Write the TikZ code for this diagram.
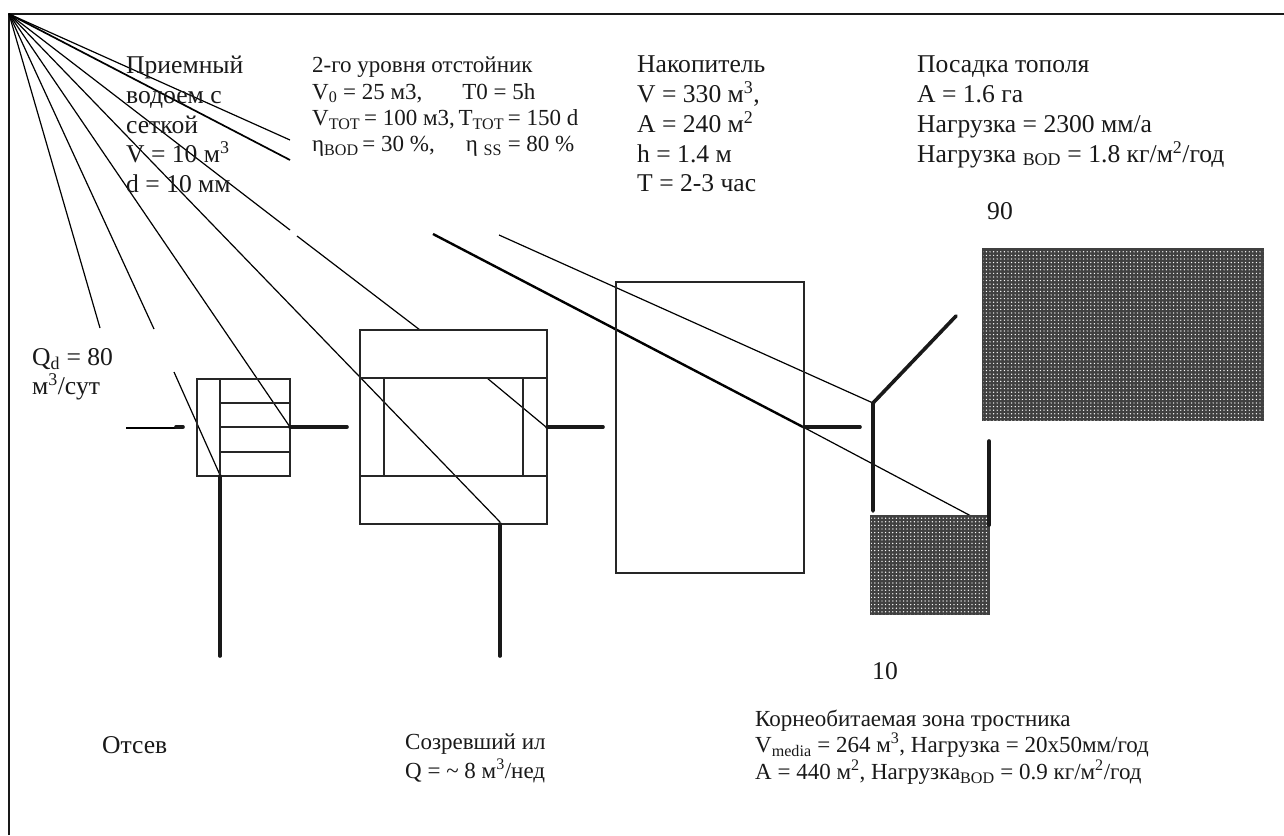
\documentclass[tikz,border=0pt]{standalone}
\usepackage{fontspec}
\setmainfont{Liberation Serif}
\usetikzlibrary{patterns.meta}
\tikzset{
  thinline/.style={line width=1.2pt},
  boxline/.style={line width=1.8pt, draw=black!85},
  thickline/.style={line width=3.6pt, line cap=round, draw=black!90},
  label/.style={inner sep=0pt, align=left, anchor=north west, text=black!90, font=\fontsize{25.6}{29.7}\selectfont},
  smalllabel/.style={label, font=\fontsize{23}{26.3}\selectfont},
  bedfill/.style={fill=black!75, draw=black!75, line width=1.5pt,
    postaction={pattern={Dots[distance=3.6pt, radius=.72pt]}, pattern color=white}}
}
\newcommand{\sbs}[1]{\textsubscript{#1}}
\newcommand{\sps}[1]{\textsuperscript{#1}}
\begin{document}
\begin{tikzpicture}[x=1pt, y=-1pt]
    \useasboundingbox (0,0) rectangle (1284,835);
    \fill[white] (0,0) rectangle (1284,835);

    % Frame
    \coordinate (apex) at (9,14);
    \coordinate (topright) at (1284,14);
    \coordinate (botleft) at (9,835);
    \draw[line width=2.2pt, black!90] (botleft) -- (apex) -- (topright);

    % Rays
    \draw[thinline] (apex) -- (100,328);
    \draw[thinline] (apex) -- (154,329);
    \draw[thinline] (174,372) -- (220,475);
    \draw[thinline] (apex) -- (290,427);
    \draw[thinline] (apex) -- (500,522);
    \draw[thinline] (apex) -- (290,230);
    \draw[thinline] (297,236) -- (420,330);
    \draw[thinline] (487,378) -- (546,427);
    \draw[line width=1.7pt] (apex) -- (290,160);
    \draw[line width=2.4pt] (433,234) -- (803,427);
    \draw[thinline] (803,427) -- (971,516);
    \draw[thinline] (apex) -- (290,140);
    \draw[thinline] (499,235) -- (873,403);

    % Screen
    \draw[boxline] (197,379) rectangle (290,476);
    \draw[boxline] (220,379) -- (220,476);
    \foreach \y in {403,427,452}
        \draw[boxline] (220,\y) -- (290,\y);

    % Settler
    \draw[boxline] (360,330) rectangle (547,524);
    \draw[boxline] (360,378) -- (547,378);
    \draw[boxline] (360,476) -- (547,476);
    \draw[boxline] (384,378) -- (384,476);
    \draw[boxline] (523,378) -- (523,476);

    % Storage
    \draw[boxline] (616,282) rectangle (804,573);

    % Beds
    \path[bedfill] (983,249) rectangle (1263,420);
    \path[bedfill] (871,516) rectangle (989,614);

    % Pipes
    \draw[thinline] (126,428) -- (176,428);
    \draw[thickline] (176,427) -- (183,427);
    \draw[thickline] (290,427) -- (347,427);
    \draw[thickline] (220,476) -- (220,656);
    \draw[thickline] (547,427) -- (603,427);
    \draw[thickline] (500,524) -- (500,656);
    \draw[thickline] (804,427) -- (860,427);
    \draw[thickline] (873,511) -- (873,403) -- (956,316);
    \draw[thickline] (989,441) -- (989,525);

    % Labels
    \node (intake) [label] at (126,56) {Приемный\\водоем с\\сеткой\\V = 10 м\sps{3}\\d = 10 мм};
    \node (settler) [smalllabel] at (312,57) {2-го уровня отстойник\\V\sbs{0} = 25 м3,\hspace{40pt}T0 = 5h\\V\sbs{TOT}\hspace{-2pt} = 100 м3,\hspace{-2pt} T\sbs{TOT}\hspace{-2pt} = 150 d\\η\sbs{BOD}\hspace{-2pt} = 30 \%,\hspace{31pt}η \sbs{SS} = 80 \%};
    \node (pond) [label] at (637,56) {Накопитель\\V = 330 м\sps{3},\\A = 240 м\sps{2}\\h = 1.4 м\\T = 2-3 час};
    \node (poplar) [label] at (917,56) {Посадка тополя\\A = 1.6 га\\Нагрузка = 2300 мм/а\\Нагрузка \sbs{BOD} = 1.8 кг/м\sps{2}/год};
    \node (ninety) [label] at (987,202) {90};
    \node (flow) [label] at (32,348) {Q\sbs{d} = 80\\м\sps{3}/сут};
    \node (ten) [label] at (872,662) {10};
    \node (waste) [label] at (102,736) {Отсев};
    \node (sludge) [smalllabel, font=\fontsize{23}{29}\selectfont] at (405,734) {Созревший ил\\Q = \textasciitilde{} 8 м\sps{3}/нед};
    \node (reed) [smalllabel] at (755,710) {Корнеобитаемая зона тростника\\V\sbs{media} = 264 м\sps{3}, Нагрузка = 20x50мм/год\\A = 440 м\sps{2}, Нагрузка\sbs{BOD} = 0.9 кг/м\sps{2}/год};
\end{tikzpicture}
\end{document}
